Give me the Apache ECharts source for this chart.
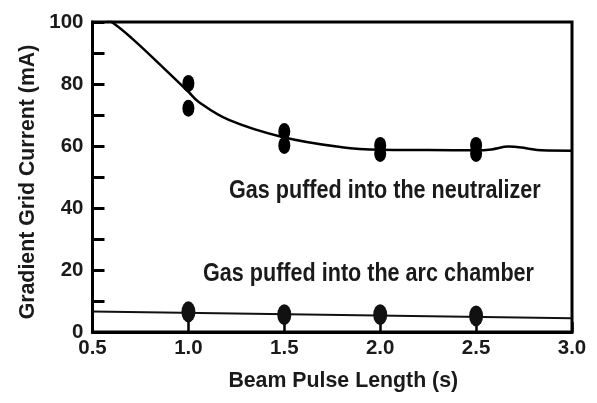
<!DOCTYPE html>
<html>
<head>
<meta charset="utf-8">
<script src="https://cdn.jsdelivr.net/npm/echarts@6/dist/echarts.min.js"></script>
<style>
html,body{margin:0;padding:0;background:#fff;}
#chart{width:597px;height:403px;}
</style>
</head>
<body>
<div id="chart"></div>
<script>
// ---- data ----
const xTicks = [0.5, 1.0, 1.5, 2.0, 2.5, 3.0];
const yTicks = [0, 20, 40, 60, 80, 100];
const neutCurveX = [0.5, 0.6, 0.704, 0.882, 1.0, 1.054, 1.211, 1.489, 1.8, 2.0, 2.25, 2.5, 2.58, 2.67, 2.76, 2.84, 3.0];
const neutCurveY = [103.5, 100, 94.8, 84.5, 77.5, 74.2, 68.4, 62.9, 59.6, 58.8, 58.7, 58.6, 58.9, 59.8, 59.3, 58.6, 58.5];
const neutPtsX = [1.0, 1.0, 1.5, 1.5, 2.0, 2.0, 2.5, 2.5];
const neutPtsY = [80.2, 72.2, 64.7, 60.2, 60.2, 57.6, 60.2, 57.6];
const arcLineX = [0.5, 3.0];
const arcLineY = [6.6, 4.4];
const arcPtsX = [1.0, 1.5, 2.0, 2.5];
const arcPtsY = [6.5, 5.6, 5.6, 5.2];
const labelNeut = 'Gas puffed into the neutralizer';
const labelArc = 'Gas puffed into the arc chamber';
const xTitle = 'Beam Pulse Length (s)';
const yTitle = 'Gradient Grid Current (mA)';

function hasFont(name) {
  const c = document.createElement('canvas').getContext('2d');
  c.font = 'bold 40px monospace';
  const a = c.measureText('Gas puffed 0123456789').width;
  c.font = 'bold 40px "' + name + '", monospace';
  const b = c.measureText('Gas puffed 0123456789').width;
  return Math.abs(a - b) > 0.5;
}
const narrow = hasFont('Liberation Sans Narrow');
const FAM = narrow ? '"Liberation Sans Narrow", "Liberation Sans", Arial, sans-serif'
                   : '"Liberation Sans", Arial, sans-serif';
const K = narrow ? 1 : 0.82;
const SX = narrow ? 1 : 0.83;
const TXT = '#1a1a1a';

const zip = (xs, ys) => xs.map((x, i) => [x, ys[i]]);

const chart = echarts.init(document.getElementById('chart'), null, {renderer: 'canvas'});
chart.setOption({
  animation: false,
  backgroundColor: '#fff',
  grid: {
    left: 92.5, right: 25, top: 22, bottom: 71,
    show: true, borderColor: '#000', borderWidth: 3, backgroundColor: 'transparent'
  },
  xAxis: {
    type: 'value', min: xTicks[0], max: xTicks[xTicks.length - 1], interval: 0.5,
    splitLine: {show: false},
    axisLine: {show: true, lineStyle: {color: '#000', width: 3}},
    axisTick: {show: true, inside: true, length: 10, lineStyle: {color: '#000', width: 2.5}},
    axisLabel: {
      margin: 6, color: TXT, fontFamily: FAM, fontWeight: 'bold', fontSize: 25 * K,
      formatter: v => v.toFixed(1)
    },
    name: xTitle, nameLocation: 'middle', nameGap: 39,
    nameTextStyle: {color: TXT, fontFamily: FAM, fontWeight: 'bold', fontSize: 26 * K, padding: [0, 0, 0, 22]}
  },
  yAxis: {
    type: 'value', min: yTicks[0], max: yTicks[yTicks.length - 1], interval: 10,
    splitLine: {show: false},
    axisLine: {show: true, lineStyle: {color: '#000', width: 3}},
    axisTick: {show: true, inside: true, length: 12, lineStyle: {color: '#000', width: 3}},
    axisLabel: {
      margin: 9, color: TXT, fontFamily: FAM, fontWeight: 'bold', fontSize: 25 * K,
      formatter: v => (yTicks.indexOf(v) >= 0 ? String(v) : '')
    },
    name: yTitle, nameLocation: 'middle', nameGap: 51, nameRotate: 90,
    nameTextStyle: {color: TXT, fontFamily: FAM, fontWeight: 'bold', fontSize: 26 * K, padding: [0, 10, 0, 0]}
  },
  series: [
    {
      type: 'line', data: zip(neutCurveX, neutCurveY), smooth: 0.4, showSymbol: false,
      lineStyle: {color: '#000', width: 2.5}, clip: true, z: 2
    },
    {
      type: 'line', data: zip(arcLineX, arcLineY), showSymbol: false,
      lineStyle: {color: '#111', width: 2}, z: 2
    },
    {
      type: 'scatter', data: zip(neutPtsX, neutPtsY), symbol: 'circle', symbolSize: [12, 17],
      itemStyle: {color: '#000', opacity: 1}, z: 3
    },
    {
      type: 'scatter', data: zip(arcPtsX, arcPtsY), symbol: 'circle', symbolSize: [14, 21],
      itemStyle: {color: '#111', opacity: 1}, z: 3
    }
  ],
  graphic: [
    {
      type: 'text', x: 229, y: 191, scaleX: SX,
      style: {text: labelNeut, fill: TXT, fontFamily: FAM, fontWeight: 'bold', fontSize: 26,
              align: 'left', verticalAlign: 'middle'}
    },
    {
      type: 'text', x: 203, y: 274, scaleX: SX,
      style: {text: labelArc, fill: TXT, fontFamily: FAM, fontWeight: 'bold', fontSize: 26,
              align: 'left', verticalAlign: 'middle'}
    }
  ]
});
</script>
</body>
</html>
